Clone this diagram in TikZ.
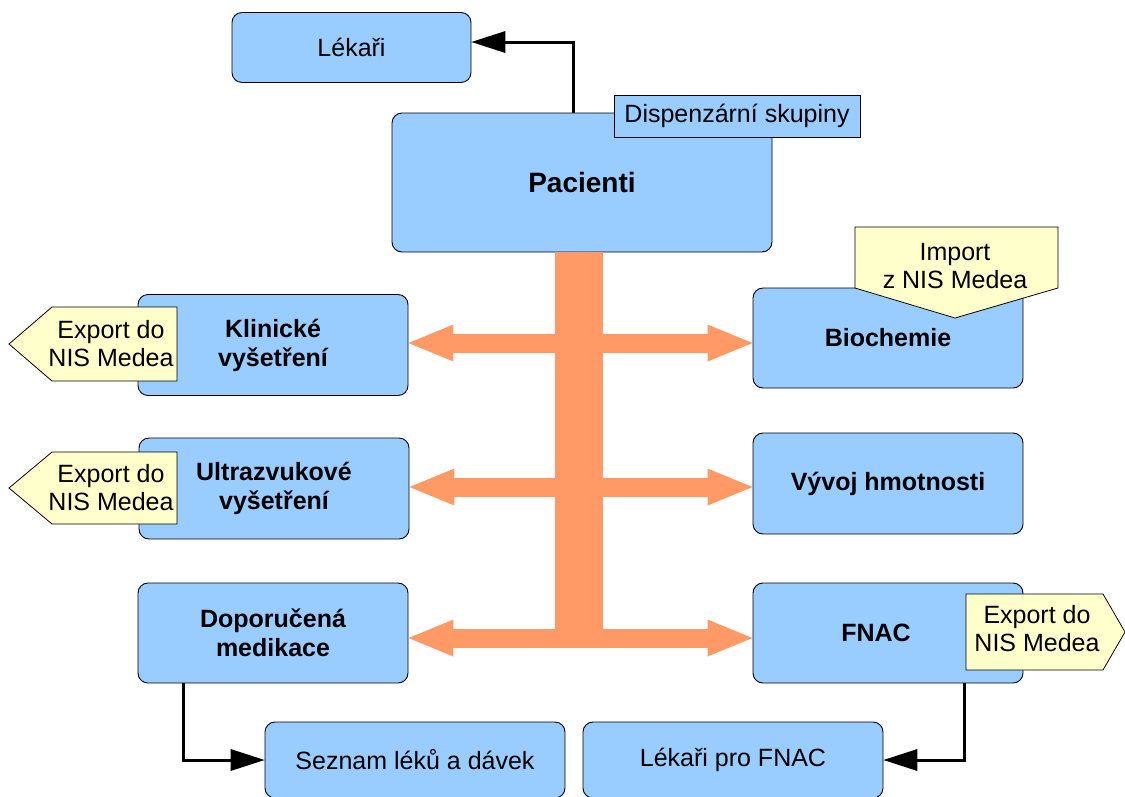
\documentclass[tikz,border=0pt]{standalone}
\usepackage{fontspec}
\setmainfont{Liberation Sans}
\usetikzlibrary{arrows.meta}
\definecolor{boxblue}{HTML}{99CCFF}
\definecolor{barorange}{HTML}{FF9966}
\definecolor{noteyellow}{HTML}{FFFFCC}
\begin{document}
\begin{tikzpicture}[x=1pt,y=-1pt,
  box/.style={draw=black, line width=0.9pt, fill=boxblue, rounded corners=10pt, align=center, inner sep=0pt, font=\fontsize{25}{29}\selectfont},
  boldbox/.style={box, font=\fontsize{25}{29}\selectfont\bfseries},
  label/.style={draw=black, line width=0.8pt, fill=boxblue, inner sep=0pt, font=\fontsize{25}{29}\selectfont},
  note/.style={draw=black, line width=0.8pt, fill=noteyellow},
  notetext/.style={align=center, inner sep=0pt, font=\fontsize{25}{28}\selectfont},
  conn/.style={draw=black, line width=3pt, -{Triangle[length=34pt,width=22pt,line width=0pt]}},
  flow/.style={draw=barorange, line width=19pt, {Triangle[length=45pt,width=37pt,line width=0pt]}-{Triangle[length=45pt,width=37pt,line width=0pt]}}
]
\useasboundingbox (0,0) rectangle (1125,796);

% boxes
\node[box, minimum width=239pt, minimum height=70pt] (lek) at (351.5,47.5) {Lékaři};
\node[boldbox, minimum width=380pt, minimum height=139pt, font=\fontsize{28}{32}\selectfont\bfseries] (pac) at (582,182.5) {Pacienti};
\node[boldbox, minimum width=270pt, minimum height=101pt] (klin) at (273,345) {Klinické\\vyšetření};
\node[boldbox, minimum width=270pt, minimum height=100pt] (bio) at (888,338) {Biochemie};
\node[boldbox, minimum width=270pt, minimum height=101pt] (ultra) at (274,488.5) {Ultrazvukové\\vyšetření};
\node[boldbox, minimum width=270pt, minimum height=101pt] (vyvoj) at (888,483.5) {Vývoj hmotnosti};
\node[boldbox, minimum width=270pt, minimum height=100pt] (dop) at (273,633) {Doporučená\\medikace};
\node[boldbox, minimum width=270pt, minimum height=100pt] (fnac) at (888,633) {};
\node[font=\fontsize{25}{29}\selectfont\bfseries] (fnact) at (876,633) {FNAC};
\node[box, minimum width=300pt, minimum height=76pt] (sez) at (415,760) {Seznam léků a dávek};
\node[box, minimum width=300pt, minimum height=76pt] (lfn) at (733,760) {Lékaři pro FNAC};

% orange hub
\draw[flow] (klin.east |- 0,343) -- (bio.west |- 0,343);
\draw[flow] (ultra.east |- 0,487) -- (vyvoj.west |- 0,487);
\draw[flow] (dop.east |- 0,638) -- (fnac.west |- 0,638);
\fill[barorange] (pac.south -| 555,0) rectangle (603,647);

% black connectors
\draw[conn] (pac.north -| 573,0) |- (lek.east |- 0,42);
\draw[conn] (dop.south -| 183,0) |- (sez.west |- 0,760);
\draw[conn] (fnac.south -| 964,0) |- (lfn.east |- 0,760);

% label on Pacienti
\node[label, minimum width=246pt, minimum height=42pt] (disp) at (737,116) {Dispenzární skupiny};

% callouts
\draw[note] (52,307) -- (177,307) -- (177,381) -- (52,381) -- (9,344) -- cycle;
\node[notetext] (ex1) at (111,344) {Export do\\NIS Medea};
\draw[note] (52,452) -- (177,452) -- (177,524) -- (52,524) -- (9,488) -- cycle;
\node[notetext] (ex2) at (111,488) {Export do\\NIS Medea};
\draw[note] (855,227) -- (1058,227) -- (1058,288) -- (955,318) -- (855,288) -- cycle;
\node[notetext] (imp) at (955,266) {Import\\z NIS Medea};
\draw[note] (966,594) -- (1103,594) -- (1125,632) -- (1103,670) -- (966,670) -- cycle;
\node[notetext] (ex3) at (1037,629) {Export do\\NIS Medea};
\end{tikzpicture}
\end{document}
